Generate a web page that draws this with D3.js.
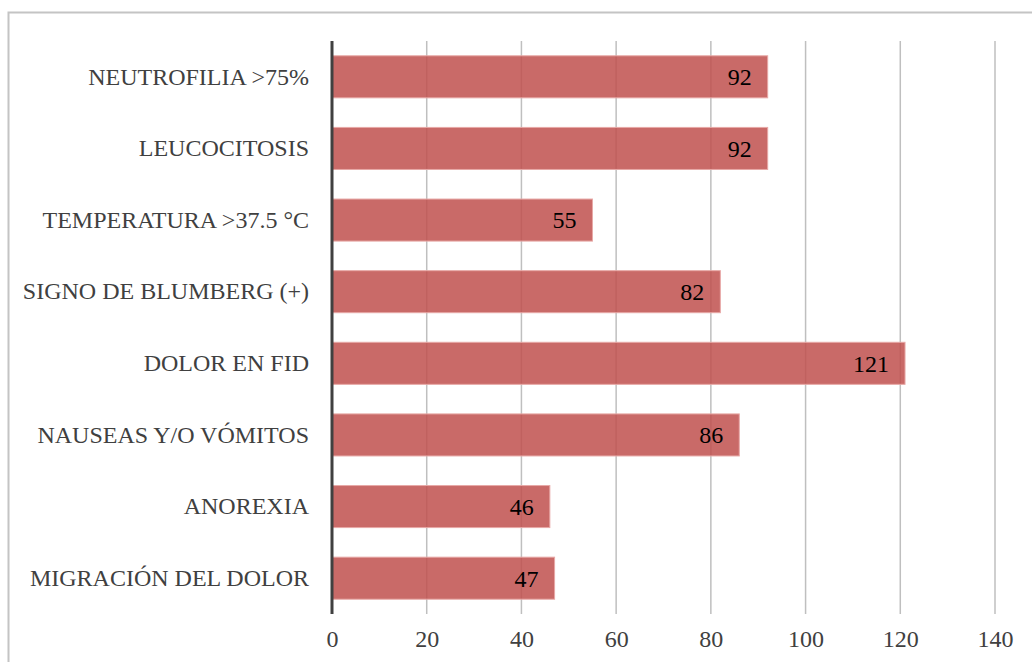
<!DOCTYPE html>
<html lang="es">
<head>
    <meta charset="UTF-8">
    <title>Signos y síntomas</title>
    <script src="https://d3js.org/d3.v7.min.js"></script>
    <style>
        body { margin: 0; background: #fff; }
        svg { display: block; }
        svg text { font-family: "Liberation Serif", "Times New Roman", serif; }
    </style>
</head>
<body>
    <svg id="chart" width="1032" height="662"></svg>
    <script>
// Data (top to bottom as shown)
const categories = [
    "NEUTROFILIA >75%",
    "LEUCOCITOSIS",
    "TEMPERATURA >37.5 °C",
    "SIGNO DE BLUMBERG (+)",
    "DOLOR EN FID",
    "NAUSEAS Y/O VÓMITOS",
    "ANOREXIA",
    "MIGRACIÓN DEL DOLOR"
];
const values = [92, 92, 55, 82, 121, 86, 46, 47];
const xTicks = [0, 20, 40, 60, 80, 100, 120, 140];

const serif = "'Liberation Serif', 'Times New Roman', serif";
const svg = d3.select("#chart");

// outer frame (runs off the bottom/right like the original)
svg.append("rect")
    .attr("x", 8.5).attr("y", 12.5)
    .attr("width", 1040).attr("height", 700)
    .attr("fill", "none")
    .attr("stroke", "#c4c4c4")
    .attr("stroke-width", 2);

const x = d3.scaleLinear().domain([0, 140]).range([332, 995]);
const y = d3.scaleBand().domain(categories).range([41, 614]).paddingInner(0.413).paddingOuter(0.2065);

// vertical gridlines
svg.append("g")
    .selectAll("line")
    .data(xTicks.slice(1))
    .join("line")
    .attr("x1", d => x(d)).attr("x2", d => x(d))
    .attr("y1", 41).attr("y2", 614)
    .attr("stroke", "#bfbfbf")
    .attr("stroke-width", 1.5);

// bars
const data = categories.map((c, i) => ({ cat: c, val: values[i] }));
svg.append("g")
    .selectAll("rect")
    .data(data)
    .join("rect")
    .attr("x", x(0))
    .attr("y", d => y(d.cat))
    .attr("width", d => x(d.val) - x(0))
    .attr("height", y.bandwidth())
    .attr("fill", "#c0504d")
    .attr("fill-opacity", 0.85)
    .attr("stroke", "#e8a8a6")
    .attr("stroke-width", 1);

// value labels
svg.append("g")
    .selectAll("text")
    .data(data)
    .join("text")
    .attr("x", d => x(d.val) - 16)
    .attr("y", d => y(d.cat) + y.bandwidth() / 2)
    .attr("dy", "0.35em")
    .attr("text-anchor", "end")
    .attr("font-family", serif)
    .attr("font-size", 24)
    .attr("fill", "#000")
    .text(d => d.val);

// category axis
const yAxis = svg.append("g")
    .attr("transform", `translate(${x(0)},0)`)
    .call(d3.axisLeft(y).tickSize(0).tickPadding(23));
yAxis.select(".domain").remove();
yAxis.attr("font-family", serif).attr("font-size", 24);
yAxis.selectAll("text")
    .attr("fill", "#404040");

svg.append("line")
    .attr("x1", x(0)).attr("x2", x(0))
    .attr("y1", 41).attr("y2", 614)
    .attr("stroke", "#404040")
    .attr("stroke-width", 3);

// value axis labels
const xAxis = svg.append("g")
    .attr("transform", "translate(0,614)")
    .call(d3.axisBottom(x).tickValues(xTicks).tickSize(0).tickPadding(16).tickFormat(d3.format("d")));
xAxis.select(".domain").remove();
xAxis.attr("font-family", serif).attr("font-size", 24);
xAxis.selectAll("text")
    .attr("fill", "#404040");
    </script>
</body>
</html>
